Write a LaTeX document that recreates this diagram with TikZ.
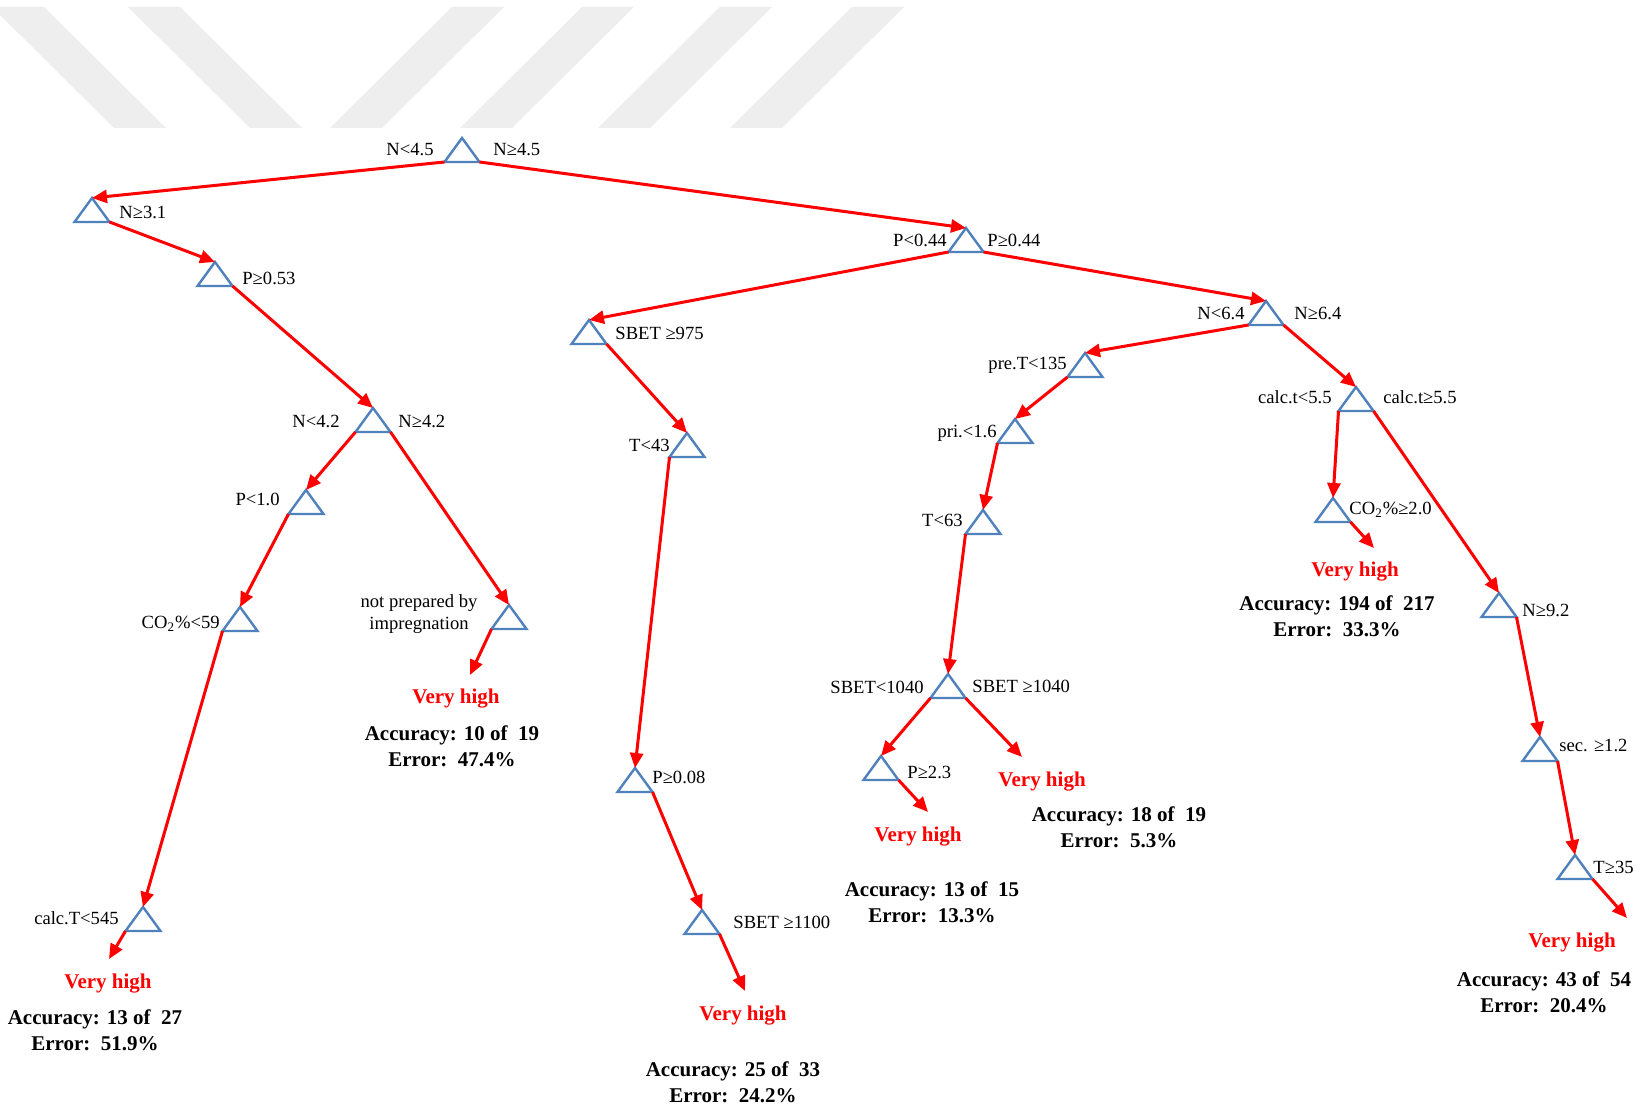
\documentclass[tikz,border=0pt]{standalone}
\usepackage{fontspec}
\setmainfont{Liberation Serif}
\usetikzlibrary{arrows.meta,calc}
\definecolor{edgered}{RGB}{255,0,0}
\definecolor{triblue}{RGB}{79,129,189}
\definecolor{wmgray}{RGB}{238,238,238}

\tikzset{
  tribox/.style={draw=triblue, line width=1.2pt, line join=miter},
  arr/.style={draw=edgered, line width=1.5pt, -{Triangle[length=7.5pt,width=6.5pt]}},
  cond/.style={inner sep=0pt, font=\fontsize{9.3}{11.2}\selectfont},
  leafhead/.style={inner sep=0pt, font=\fontsize{10.5}{12}\selectfont\bfseries, text=edgered},
  leafstat/.style={inner sep=0pt, align=center, font=\fontsize{10.5}{12.8}\selectfont\bfseries},
  band/.style={fill=wmgray, draw=none},
}

% split node: apex coordinate plus its two base corners, drawn as a triangle
\newcommand\splitnode[3]{%
  \coordinate (#1) at (#2,#3);
  \coordinate (#1-l) at ($(#1)+(-17.5,24)$);
  \coordinate (#1-r) at ($(#1)+(17.5,24)$);
  \draw[tribox] (#1) -- (#1-l) -- (#1-r) -- cycle;}

\begin{document}
\begin{tikzpicture}[x=0.5pt,y=-0.5pt]
\useasboundingbox (0,0) rectangle (1641,1111);
\fill[white] (0,0) rectangle (1641,1111);

% light diagonal bands along the top
\begin{scope}
\clip (0,0) rectangle (1641,1111);
\fill[band] (-8,7) -- (44,7) -- (166,128) -- (114,128) -- cycle;
\fill[band] (128,7) -- (180,7) -- (302,128) -- (250,128) -- cycle;
\fill[band] (452,7) -- (504,7) -- (382,128) -- (330,128) -- cycle;
\fill[band] (582,7) -- (634,7) -- (512,128) -- (460,128) -- cycle;
\fill[band] (720,7) -- (772,7) -- (650,128) -- (598,128) -- cycle;
\fill[band] (852,7) -- (904,7) -- (782,128) -- (730,128) -- cycle;
\end{scope}

% split nodes
\splitnode{root}{462}{138}
\splitnode{nthree}{92}{198}
\splitnode{pfivethree}{215}{262}
\splitnode{nfourtwo}{373}{408}
\splitnode{pone}{306}{490}
\splitnode{cofivenine}{240}{607}
\splitnode{calcT}{143}{907}
\splitnode{impreg}{509}{605}
\splitnode{pfourfour}{966}{228}
\splitnode{sbetA}{589}{320}
\splitnode{tfourthree}{687}{433}
\splitnode{pzeroeight}{635}{768}
\splitnode{sbetB}{702}{910}
\splitnode{nsixfour}{1266}{301}
\splitnode{preT}{1085}{353}
\splitnode{pri}{1015}{419}
\splitnode{tsixthree}{983}{510}
\splitnode{sbetC}{948}{674}
\splitnode{ptwothree}{881}{756}
\splitnode{calct}{1356}{387}
\splitnode{cotwo}{1333}{498}
\splitnode{nninetwo}{1499}{593}
\splitnode{sec}{1540}{737}
\splitnode{tthreefive}{1575}{855}

% free ends of the leaf arrows
\coordinate (calcT-tip) at (109,959);
\coordinate (impreg-tip) at (470,675);
\coordinate (sbetB-tip) at (745,991);
\coordinate (sbetC-tip) at (1022,757);
\coordinate (ptwothree-tip) at (928,812);
\coordinate (cotwo-tip) at (1374,548);
\coordinate (tthreefive-tip) at (1627,918);

% branches
\draw[arr] (root-l) -- (nthree);
\draw[arr] (root-r) -- (pfourfour);
\draw[arr] (nthree-r) -- (pfivethree);
\draw[arr] (pfivethree-r) -- (nfourtwo);
\draw[arr] (nfourtwo-l) -- (pone);
\draw[arr] (nfourtwo-r) -- (impreg);
\draw[arr] (pone-l) -- (cofivenine);
\draw[arr] (cofivenine-l) -- (calcT);
\draw[arr] (calcT-l) -- (calcT-tip);
\draw[arr] (impreg-l) -- (impreg-tip);
\draw[arr] (pfourfour-l) -- (sbetA);
\draw[arr] (pfourfour-r) -- (nsixfour);
\draw[arr] (sbetA-r) -- (tfourthree);
\draw[arr] (tfourthree-l) -- (pzeroeight);
\draw[arr] (pzeroeight-r) -- (sbetB);
\draw[arr] (sbetB-r) -- (sbetB-tip);
\draw[arr] (nsixfour-l) -- (preT);
\draw[arr] (nsixfour-r) -- (calct);
\draw[arr] (preT-l) -- (pri);
\draw[arr] (pri-l) -- (tsixthree);
\draw[arr] (tsixthree-l) -- (sbetC);
\draw[arr] (sbetC-l) -- (ptwothree);
\draw[arr] (sbetC-r) -- (sbetC-tip);
\draw[arr] (ptwothree-r) -- (ptwothree-tip);
\draw[arr] (calct-l) -- (cotwo);
\draw[arr] (calct-r) -- (nninetwo);
\draw[arr] (cotwo-r) -- (cotwo-tip);
\draw[arr] (nninetwo-r) -- (sec);
\draw[arr] (sec-r) -- (tthreefive);
\draw[arr] (tthreefive-r) -- (tthreefive-tip);

% split conditions
\node[cond, anchor=east] (root-lt) at (434,150) {N<4.5};
\node[cond, anchor=west] (root-rt) at (493,150) {N≥4.5};
\node[cond, anchor=west] (nthree-t) at (119,212) {N≥3.1};
\node[cond, anchor=west] (pfivethree-t) at (242,278) {P≥0.53};
\node[cond, anchor=east] (nfourtwo-lt) at (340,421) {N<4.2};
\node[cond, anchor=west] (nfourtwo-rt) at (398,421) {N≥4.2};
\node[cond, anchor=east] (pone-t) at (280,499) {P<1.0};
\node[cond, anchor=east] (cofivenine-t) at (220,624) {CO\textsubscript{2}\%<59};
\node[cond, anchor=east] (calcT-t) at (119,918) {calc.T<545};
\node[cond, align=center] (impreg-t) at (419,614) {not prepared by\\impregnation};
\node[cond, anchor=east] (pfourfour-lt) at (947,240) {P<0.44};
\node[cond, anchor=west] (pfourfour-rt) at (987,240) {P≥0.44};
\node[cond, anchor=west] (sbetA-t) at (615,333) {SBET ≥975};
\node[cond, anchor=east] (tfourthree-t) at (670,445) {T<43};
\node[cond, anchor=west] (pzeroeight-t) at (652,777) {P≥0.08};
\node[cond, anchor=west] (sbetB-t) at (733,922) {SBET ≥1100};
\node[cond, anchor=east] (nsixfour-lt) at (1245,313) {N<6.4};
\node[cond, anchor=west] (nsixfour-rt) at (1294,313) {N≥6.4};
\node[cond, anchor=east] (preT-t) at (1067,365) {pre.T<135};
\node[cond, anchor=east] (pri-t) at (997,433) {pri.<1.6};
\node[cond, anchor=east] (tsixthree-t) at (963,520) {T<63};
\node[cond, anchor=east] (sbetC-lt) at (924,687) {SBET<1040};
\node[cond, anchor=west] (sbetC-rt) at (972,686) {SBET ≥1040};
\node[cond, anchor=west] (ptwothree-t) at (907,772) {P≥2.3};
\node[cond, anchor=east] (calct-lt) at (1332,397) {calc.t<5.5};
\node[cond, anchor=west] (calct-rt) at (1383,397) {calc.t≥5.5};
\node[cond, anchor=west] (cotwo-t) at (1349,510) {CO\textsubscript{2}\%≥2.0};
\node[cond, anchor=west] (nninetwo-t) at (1522,610) {N≥9.2};
\node[cond, anchor=west] (sec-t) at (1559,745) {sec. ≥1.2};
\node[cond, anchor=west] (tthreefive-t) at (1593,867) {T≥35};

% leaves
\node[leafhead] (leafA) at (108,983.5) {Very high};
\node[leafstat] (statA) at (95,1030) {Accuracy: 13 of\ \ 27\\Error:\ \ 51.9\%};
\node[leafhead] (leafB) at (456,698.5) {Very high};
\node[leafstat] (statB) at (452,746) {Accuracy: 10 of\ \ 19\\Error:\ \ 47.4\%};
\node[leafhead] (leafC) at (743,1015.5) {Very high};
\node[leafstat] (statC) at (733,1082) {Accuracy: 25 of\ \ 33\\Error:\ \ 24.2\%};
\node[leafhead] (leafD) at (918,836.5) {Very high};
\node[leafstat] (statD) at (932,902) {Accuracy: 13 of\ \ 15\\Error:\ \ 13.3\%};
\node[leafhead] (leafE) at (1042,781.5) {Very high};
\node[leafstat] (statE) at (1119,827) {Accuracy: 18 of\ \ 19\\Error:\ \ 5.3\%};
\node[leafhead] (leafF) at (1355,571.5) {Very high};
\node[leafstat] (statF) at (1337,616) {Accuracy: 194 of\ \ 217\\Error:\ \ 33.3\%};
\node[leafhead] (leafG) at (1572,942.5) {Very high};
\node[leafstat] (statG) at (1544,992) {Accuracy: 43 of\ \ 54\\Error:\ \ 20.4\%};
\end{tikzpicture}
\end{document}
